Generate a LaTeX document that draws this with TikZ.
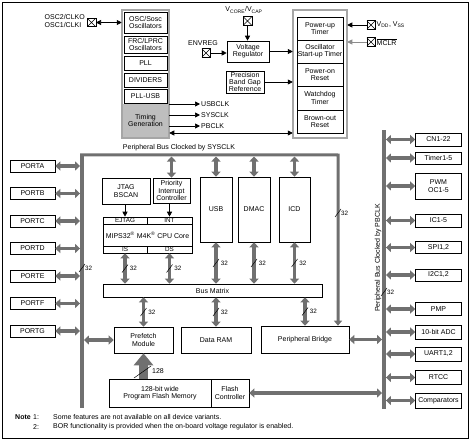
\documentclass[tikz,border=0pt]{standalone}
\usepackage{fontspec}
\setmainfont{Liberation Sans}
\usepackage{tikz}
\usetikzlibrary{arrows.meta}

\definecolor{busgray}{RGB}{112,112,112}
\definecolor{timgray}{RGB}{190,190,190}

\newcommand{\ft}{\fontsize{7}{7.3}\selectfont}
\newcommand{\fsm}{\fontsize{6.3}{7}\selectfont}

\tikzset{
  blk/.style={draw, fill=white, line width=0.6pt, inner sep=0.3pt, align=center, font=\ft},
  row/.style={blk, inner sep=0pt, font=\fsm},
  col/.style={draw=black!75, double=black!35, double distance=1.5pt, line width=0.5pt},
  pinbox/.style={draw, fill=white, line width=0.5pt, minimum size=8.5pt, inner sep=0pt,
    path picture={\draw[line width=0.4pt] (path picture bounding box.south west) -- (path picture bounding box.north east)
      (path picture bounding box.north west) -- (path picture bounding box.south east);}},
  txt/.style={inner sep=1pt, font=\ft},
  sig/.style={line width=0.7pt, -{Triangle[width=5pt,length=5pt]}},
  sig2/.style={line width=0.7pt, {Triangle[width=5pt,length=5pt]}-{Triangle[width=5pt,length=5pt]}},
  busarrow/.style={draw=busgray, line width=3.5pt, {Triangle[width=9pt,length=5pt]}-{Triangle[width=9pt,length=5pt]}},
  busbar/.style={fill=busgray, draw=none, minimum width=3.5pt, inner sep=0pt},
  busline/.style={draw=busgray, line width=3pt},
  fatarrow/.style={draw=busgray, line width=9pt, -{Triangle[width=19pt,length=12pt]}},
  pics/wmark/.style={code={
    \draw[draw=black, line width=0.5pt, -] (-3,4) -- (3,-4);
    \node[right, inner sep=0.5pt, font=\fsm, text=black] at (2.5,0) {#1};}}
}

\begin{document}
\begin{tikzpicture}[x=1pt,y=-1pt]
\useasboundingbox (0,0) rectangle (471,441);
\draw[line width=0.6pt] (2.5,2.5) rectangle (468.5,438);

\node[fill=timgray, minimum width=45pt, minimum height=33pt, inner sep=0pt, align=center, font=\ft] (tim) at (145.5,120.5) {Timing\\Generation};
\node[col, minimum width=47pt, minimum height=128pt] (clk) at (145.5,74) {};
\node[blk, minimum width=43pt, minimum height=21pt] (osc) at (145.5,22.5) {OSC/Sosc\\Oscillators};
\node[blk, minimum width=43pt, minimum height=17pt] (frc) at (145.5,44.5) {FRC/LPRC\\Oscillators};
\node[blk, minimum width=43pt, minimum height=14pt] (pll) at (145.5,63) {PLL};
\node[blk, minimum width=43pt, minimum height=14pt] (div) at (145.5,80) {DIVIDERS};
\node[blk, minimum width=43pt, minimum height=14pt] (pllusb) at (145.5,96) {PLL-USB};

\node[col, minimum width=54pt, minimum height=128pt] (rst) at (320,74) {};
\node[blk, minimum width=46pt, minimum height=23pt] (pwrt) at (320,28.5) {Power-up\\Timer};
\node[blk, minimum width=46pt, minimum height=23pt] (ost) at (320,51.5) {Oscillator\\Start-up Timer};
\node[blk, minimum width=46pt, minimum height=23pt] (por) at (320,74.5) {Power-on\\Reset};
\node[blk, minimum width=46pt, minimum height=24pt] (wdt) at (320,98) {Watchdog\\Timer};
\node[blk, minimum width=46pt, minimum height=23pt] (bor) at (320,121.5) {Brown-out\\Reset};

\node[pinbox] (oscpin) at (91.5,22.5) {};
\node[txt, anchor=east, align=left] (osclbl) at (86,21) {OSC2/CLKO\\OSC1/CLKI};
\draw[sig2] (oscpin.east) -- (clk.west |- oscpin.east);

\node[blk, minimum width=42pt, minimum height=21pt] (vreg) at (248,51.5) {Voltage\\Regulator};
\node[blk, minimum width=38pt, minimum height=22pt] (bgap) at (245,82) {Precision\\Band Gap\\Reference};

\node[pinbox] (cappin) at (247.5,21) {};
\node[txt] (caplbl) at (244,10) {V\textsubscript{CORE}/V\textsubscript{CAP}};
\draw[sig] (cappin.south) -- (cappin.south |- vreg.north);

\node[pinbox] (enpin) at (206,53) {};
\node[txt] (enlbl) at (203,43) {ENVREG};
\draw[sig] (enpin.east) -- (vreg.west |- enpin.east);

\draw[sig] (vreg.east) -- (rst.west |- vreg.east);
\draw[sig] (bgap.east) -- (rst.west |- bgap.east);

\node[pinbox] (vddpin) at (371,25) {};
\node[txt, anchor=west] (vddlbl) at (vddpin.east) {V\textsubscript{DD}, V\textsubscript{SS}};
\draw[sig] (vddpin.west) -- (rst.east |- vddpin.west);
\node[pinbox] (mclrpin) at (371,42) {};
\node[txt, anchor=west] (mclrlbl) at (mclrpin.east) {$\overline{\mbox{MCLR}}$};
\draw[sig, draw=black!45] (mclrpin.west) -- (rst.east |- mclrpin.west);

\node[txt, anchor=west] (usbclk) at (200,104) {USBCLK};
\node[txt, anchor=west] (sysclk) at (200,115) {SYSCLK};
\node[txt, anchor=west] (pbclk) at (200,126) {PBCLK};
\foreach \c in {usbclk,sysclk,pbclk}
  \draw[sig] (clk.east |- \c.west) -- (\c.west);
\coordinate (fb) at (230,133);
\draw[sig2] (clk.east |- fb) -- (rst.west |- fb);

\node[busbar, minimum height=253pt] (lbus) at (82,281.5) {};
\node[busbar, minimum height=279pt] (rbus) at (384,269.5) {};
\coordinate (tr) at (338,155);

\node[txt] (sysbus) at (179,147.5) {Peripheral Bus Clocked by SYSCLK};
\node[txt, rotate=90] (pbbus) at (378,258) {Peripheral Bus Clocked by PBCLK};

\foreach \p [count=\i from 0] in {A,B,C,D,E,F,G}{
  \node[blk, minimum width=45pt, minimum height=12pt] (port\p) at (32.5,166+27.5*\i) {PORT\p};
  \draw[busarrow] (port\p.east) -- (lbus.west |- port\p.east);
}

\foreach \n/\y/\h/\t in {cn/139.5/13/CN1-22, tmr/158/12/Timer1-5, pwm/186/26/{PWM\\OC1-5},
    ic/220.5/13/IC1-5, spi/247.5/12/{SPI1,2}, itc/275/12/{I2C1,2}, pmp/309/13/PMP,
    adc/332/14/10-bit ADC, uart/354/14/{UART1,2}, rtcc/377.5/14/RTCC, cmp/400.5/15/Comparators}{
  \node[blk, minimum width=46pt, minimum height=\h pt] (\n) at (438.5,\y) {\t};
  \draw[busarrow] (rbus.east |- \n.west) -- (\n.west);
}

\node[blk, minimum width=48pt, minimum height=26pt] (jtag) at (126,191) {JTAG\\BSCAN};
\node[blk, minimum width=37pt, minimum height=25pt] (intc) at (171.5,190.5) {Priority\\Interrupt\\Controller};
\node[blk, minimum width=89pt, minimum height=36pt] (cpu) at (147.5,235) {MIPS32\textsuperscript{\textregistered} M4K\textsuperscript{\textregistered} CPU Core};
\node[row, minimum width=44pt, minimum height=7.5pt] (ejtag) at (125,220.75) {EJTAG};
\node[row, minimum width=45pt, minimum height=7.5pt] (int) at (169.5,220.75) {INT};
\node[row, minimum width=44pt, minimum height=7pt] (is) at (125,249.5) {IS};
\node[row, minimum width=45pt, minimum height=7pt] (ds) at (169.5,249.5) {DS};
\draw[sig] (ejtag.north |- jtag.south) -- (ejtag.north);
\draw[sig] (int.north |- intc.south) -- (int.north);

\node[blk, minimum width=32pt, minimum height=65pt] (usb) at (216,209.5) {USB};
\node[blk, minimum width=32pt, minimum height=65pt] (dmac) at (254,209.5) {DMAC};
\node[blk, minimum width=31pt, minimum height=65pt] (icd) at (294.5,209.5) {ICD};

\node[blk, minimum width=219pt, minimum height=13pt] (bm) at (212.5,290.5) {Bus Matrix};
\node[blk, minimum width=59pt, minimum height=26pt] (pref) at (143.5,340) {Prefetch\\Module};
\node[blk, minimum width=70pt, minimum height=26pt] (ram) at (216,340) {Data RAM};
\node[blk, minimum width=88pt, minimum height=27pt] (pb) at (305,339.5) {Peripheral Bridge};
\node[blk, minimum width=102pt, minimum height=28pt] (flash) at (160,393) {128-bit wide\\Program Flash Memory};
\node[blk, minimum width=38pt, minimum height=28pt] (fctl) at (230,393) {Flash\\Controller};

\draw[busline, -{Triangle[width=8pt,length=5pt]}] (lbus.north west) -- (tr) -- (tr |- pb.north);
\pic at (338,213) {wmark=32};
\pic at (82,268) {wmark=32};
\pic at (384,292) {wmark=32};

\foreach \m in {intc,usb,dmac,icd}
  \draw[busarrow, shorten <=1.5pt] (\m.north |- tr) -- (\m.north);
\foreach \m in {is,ds,usb,dmac,icd}
  \draw[busarrow] (\m.south) -- (\m.south |- bm.north) pic[pos=.5] {wmark=32};
\foreach \m in {pref,ram,pb}
  \draw[busarrow] (\m.north |- bm.south) -- (\m.north) pic[pos=.5] {wmark=32};

\draw[busarrow] (lbus.east |- pref.west) -- (pref.west);
\draw[busarrow] (pb.east) -- (rbus.west |- pb.east);
\draw[busarrow] (fctl.east) -- (rbus.west |- fctl.east);

\draw[fatarrow] (pref.south |- flash.north) -- (pref.south);
\draw[line width=0.5pt] (134,378) -- (151,366);
\node[txt, anchor=west] (w128) at (151,371) {128};

\node[txt, anchor=west, font=\ft\bfseries] (note) at (14,417) {Note};
\node[txt, anchor=west] (n1) at (32,417) {1:};
\node[txt, anchor=west] (t1) at (52,417) {Some features are not available on all device variants.};
\node[txt, anchor=west] (n2) at (32,427) {2:};
\node[txt, anchor=west] (t2) at (52,427) {BOR functionality is provided when the on-board voltage regulator is enabled.};
\end{tikzpicture}
\end{document}
